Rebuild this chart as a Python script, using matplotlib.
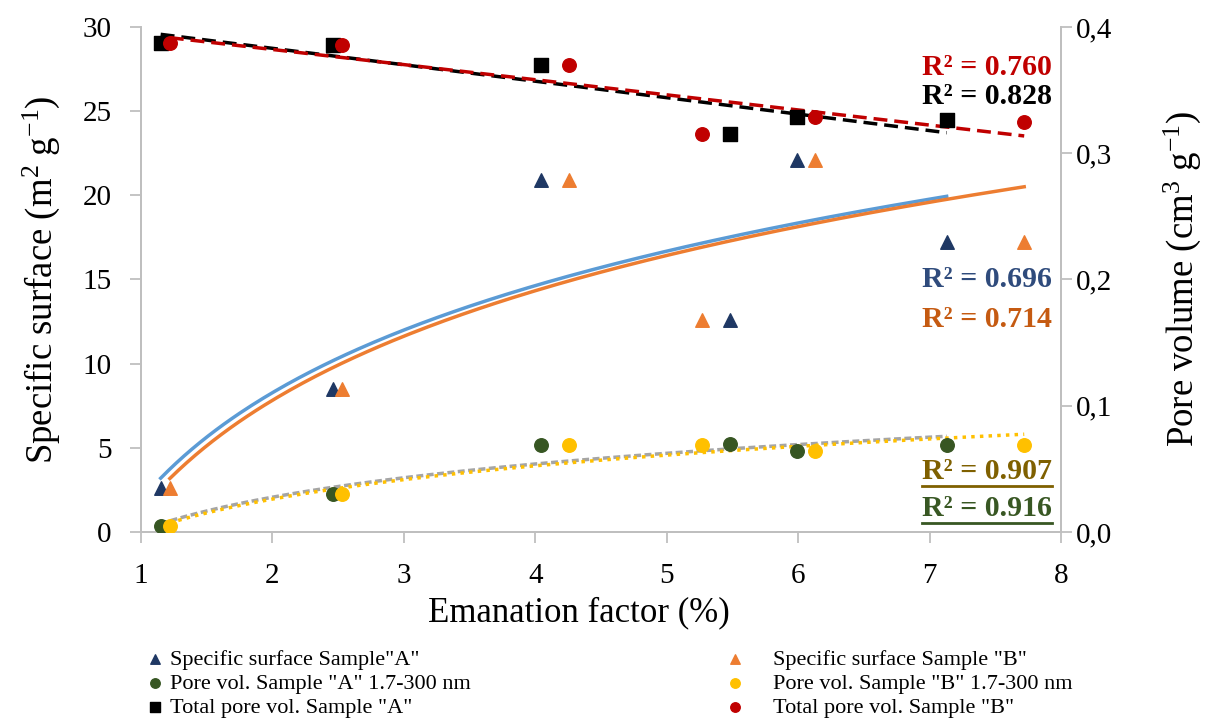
import numpy as np
import matplotlib.pyplot as plt
from matplotlib.lines import Line2D

plt.rcParams['font.family'] = ['Liberation Serif', 'DejaVu Serif']
plt.rcParams['mathtext.fontset'] = 'custom'
plt.rcParams['mathtext.rm'] = 'Liberation Serif'
plt.rcParams['mathtext.it'] = 'Liberation Serif:italic'

# emanation factor (%)
ef_a = [1.15, 2.46, 4.04, 5.48, 5.99, 7.13]
ef_b = [1.22, 2.53, 4.26, 5.27, 6.13, 7.72]
# specific surface (m2 g-1)
ss_a = [2.6, 8.5, 20.9, 12.6, 22.1, 17.2]
ss_b = [2.6, 8.5, 20.9, 12.6, 22.1, 17.2]
# pore volume 1.7-300 nm (cm3 g-1)
pv_a = [0.005, 0.030, 0.069, 0.070, 0.064, 0.069]
pv_b = [0.005, 0.030, 0.069, 0.069, 0.064, 0.069]
# total pore volume (cm3 g-1)
tpv_a = [0.387, 0.386, 0.370, 0.315, 0.329, 0.326]
tpv_b = [0.387, 0.386, 0.370, 0.315, 0.329, 0.325]

left_ticks = [0, 5, 10, 15, 20, 25, 30]
right_ticks = [0.0, 0.1, 0.2, 0.3, 0.4]
right_ticklabels = ['0,0', '0,1', '0,2', '0,3', '0,4']

labels = ['Specific surface Sample"A"', 'Pore vol. Sample "A" 1.7-300 nm',
          'Total pore vol. Sample "A"', 'Specific surface Sample "B"',
          'Pore vol. Sample "B" 1.7-300 nm', 'Total pore vol. Sample "B"']

r2_text = ['R² = 0.760', 'R² = 0.828', 'R² = 0.696', 'R² = 0.714', 'R² = 0.907', 'R² = 0.916']
r2_y = [27.6, 25.9, 15.0, 12.6, 3.6, 1.37]
r2_color = ['#C00000', '#000000', '#2F4B7C', '#C55A11', '#7F6000', '#385723']

navy = '#1F3864'
orange = '#ED7D31'
green = '#375623'
yellow = '#FFC000'
red = '#C00000'
grid_c = '#BFBFBF'


def log_trend(x, y):
    k = np.polyfit(np.log(x), y, 1)
    xs = np.linspace(min(x), max(x), 200)
    return xs, k[0] * np.log(xs) + k[1]


def lin_trend(x, y):
    k = np.polyfit(x, y, 1)
    xs = np.linspace(min(x), max(x), 200)
    return xs, k[0] * xs + k[1]


fig = plt.figure(figsize=(12.13, 7.22), dpi=100)
ax = fig.add_axes([0.1162, 0.2632, 0.7585, 0.6994])
ax2 = ax.twinx()

# trendlines
xs, ys = log_trend(ef_a, ss_a)
ax.plot(xs, ys, color='#5B9BD5', lw=2.5, zorder=2)
xs, ys = log_trend(ef_b, ss_b)
ax.plot(xs, ys, color=orange, lw=2.5, zorder=2)
xs, ys = log_trend(ef_a, pv_a)
ax2.plot(xs, ys, color='#A5A5A5', lw=2.5, ls=(0, (2, 1)), zorder=2)
xs, ys = log_trend(ef_b, pv_b)
ax2.plot(xs, ys, color=yellow, lw=2.5, ls=(0, (1, 1.5)), zorder=2)
xs, ys = lin_trend(ef_a, tpv_a)
ax2.plot(xs, ys, color='black', lw=2.5, ls=(0, (4, 2)), zorder=2)
xs, ys = lin_trend(ef_b, tpv_b)
ax2.plot(xs, ys, color=red, lw=2.5, ls=(0, (4, 2)), zorder=2)

# points
h1 = ax.scatter(ef_a, ss_a, marker='^', s=95, color=navy, label=labels[0], zorder=3)
h4 = ax.scatter(ef_b, ss_b, marker='^', s=95, color=orange, label=labels[3], zorder=3)
h2 = ax2.scatter(ef_a, pv_a, marker='o', s=95, color=green, label=labels[1], zorder=3)
h5 = ax2.scatter(ef_b, pv_b, marker='o', s=95, color=yellow, label=labels[4], zorder=3)
h3 = ax2.scatter(ef_a, tpv_a, marker='s', s=90, color='black', label=labels[2], zorder=3)
h6 = ax2.scatter(ef_b, tpv_b, marker='o', s=95, color=red, label=labels[5], zorder=3)

ax.set_xlim(1, 8)
ax.set_ylim(0, 30)
ax2.set_ylim(0, 0.4)
ax.set_yticks(left_ticks)
ax2.set_yticks(right_ticks)
ax2.set_yticklabels(right_ticklabels)

for a in (ax, ax2):
    for s in a.spines.values():
        s.set_color(grid_c)
        s.set_linewidth(1.3)
    a.spines['top'].set_visible(False)
    a.tick_params(labelsize=21, color=grid_c, length=8, width=1.3)
ax.tick_params(axis='x', pad=14)
ax.tick_params(axis='y', pad=13)
ax2.tick_params(axis='y', pad=2.5)

ax.set_xlabel('Emanation factor (%)', fontsize=25)
ax.xaxis.set_label_coords(0.476, -0.128)
ax.set_ylabel('Specific surface (m$^{2}$ g$^{-1}$)', fontsize=26.5, labelpad=15)
ax2.set_ylabel('Pore volume (cm$^{3}$ g$^{-1}$)', fontsize=26.5, labelpad=36)

# R2 labels
texts = []
for t, y, c in zip(r2_text, r2_y, r2_color):
    texts.append(ax.text(7.93, y, t, color=c, fontsize=21.5, fontweight='bold',
                         ha='right', va='center', zorder=5))

# underline the last two
fig.canvas.draw()
for t, c in zip(texts[4:], r2_color[4:]):
    bb = t.get_window_extent()
    fig.add_artist(Line2D([bb.x0, bb.x1], [bb.y0 - 1, bb.y0 - 1], color=c, lw=2, transform=None))

leg_kw = dict(loc='upper left', frameon=False, fontsize=16, markerscale=0.7,
              labelspacing=0.17, handlelength=0.8, borderpad=0, borderaxespad=0)
leg1 = fig.legend(handles=[h1, h2, h3], bbox_to_anchor=(0.1204, 0.101), handletextpad=0.3, **leg_kw)
leg2 = fig.legend(handles=[h4, h5, h6], bbox_to_anchor=(0.5985, 0.101), handletextpad=1.3, **leg_kw)

fig.savefig('out.png', dpi=100)
